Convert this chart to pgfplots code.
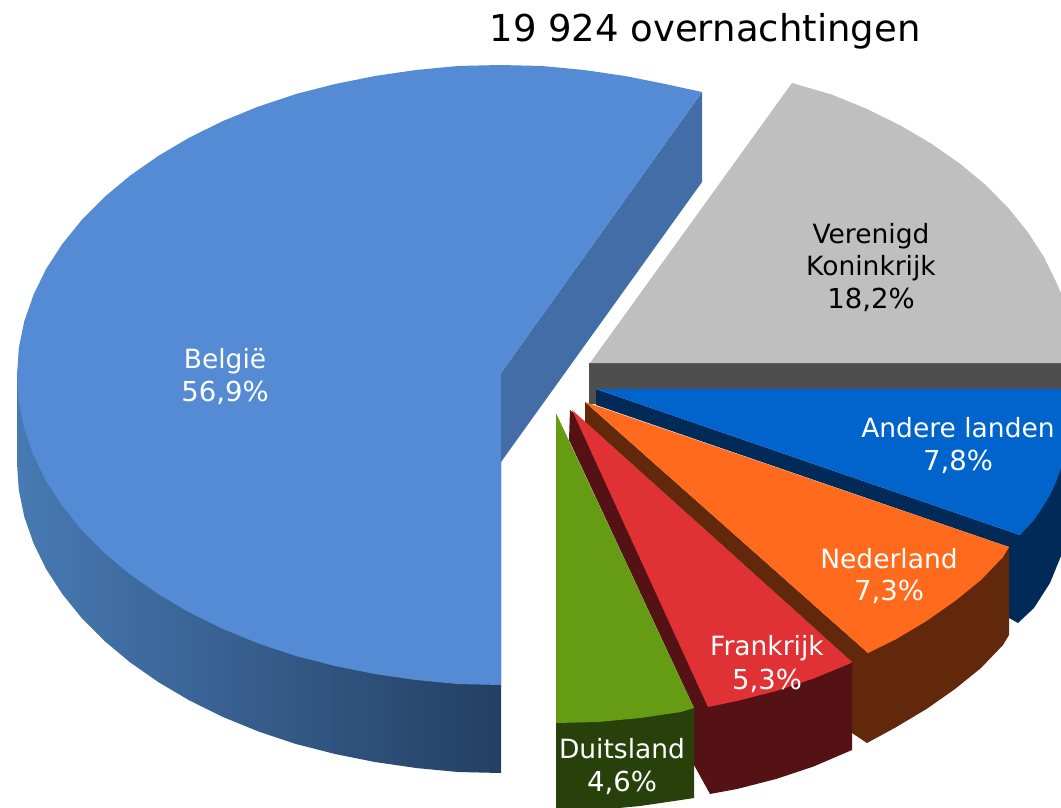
\documentclass[border=0pt]{standalone}
\usepackage{pgfplots}
\pgfplotsset{compat=1.18}
\usepackage{fontspec}
\setmainfont{DejaVu Sans}
\definecolor{belTop}{HTML}{558BD4}
\definecolor{belCut}{HTML}{426DA6}
\definecolor{belL}{HTML}{477AB3}
\definecolor{belM}{HTML}{3C6598}
\definecolor{belR}{HTML}{243F63}
\definecolor{ukTop}{HTML}{BFBFBF}
\definecolor{ukCut}{HTML}{4E4E4E}
\definecolor{otTop}{HTML}{0064CC}
\definecolor{otCut}{HTML}{002A58}
\definecolor{nlTop}{HTML}{FF6A1C}
\definecolor{nlCut}{HTML}{62280C}
\definecolor{frTop}{HTML}{E03134}
\definecolor{frCut}{HTML}{551214}
\definecolor{deTop}{HTML}{669C14}
\definecolor{deCut}{HTML}{28400A}
\newcommand{\lab}[4][white]{\node[anchor=base,inner sep=0pt,text=#1,font=\fontsize{#2}{#2}\selectfont] at (axis cs:#3) {#4};}
\begin{document}
\begin{tikzpicture}
\begin{axis}[
  scale only axis, width=1061pt, height=808pt,
  xmin=0, xmax=1061, ymin=0, ymax=808, y dir=reverse,
  hide axis, clip=true]
\path[use as bounding box] (rel axis cs:0,0) rectangle (rel axis cs:1,1);
% België: cut face
\addplot[fill=belCut,draw=none] coordinates {(702,92)(702,182)(501,462)(501,373)};
% België: outer side
\addplot[draw=none,left color=belL,middle color=belM,right color=belR] coordinates {
(17,375)(17,463)(18.8,490)(24.3,516.8)(33.5,543.2)(46.1,569)(62.3,594)(81.7,618)(104.3,640.8)(130,662.3)(158.5,682.2)(189.5,700.5)(223,717)(258.5,731.5)(296,744)(335,754)(375,762)(416,768)(458,772)(501,773)(501,375)};
% België: top
\addplot[fill=belTop,draw=none] coordinates {
(501,373)(702,92)(665,84)(625,76)(584,70)(542,66)(500,65)(458,66)(416,70)(375,76)(335,84)(296,94)(258.5,106.5)(223,121)(189.5,137.5)(158.5,155.8)(130,175.7)(104.3,197.2)(81.7,220)(62.3,244)(46.1,269)(33.5,294.8)(24.3,321.2)(18.8,348)(17,375)(18.8,402)(24.3,428.8)(33.5,455.2)(46.1,481)(62.3,506)(81.7,530)(104.3,552.8)(130,574.3)(158.5,594.2)(189.5,612.5)(223,629)(258.5,643.5)(296,656)(335,666)(375,674)(416,680)(458,684)(501,685)};
% Verenigd Koninkrijk
\addplot[fill=ukCut,draw=none] coordinates {(589,363)(1061,363)(1061,389)(596,389)(596,404)(589,404)};
\addplot[fill=ukTop,draw=none] coordinates {(590,363)(792,83)(831.5,94.5)(867,109)(900.5,125.5)(931.5,143.8)(960,163.7)(985.7,185)(1008.3,208)(1027.7,232)(1043.9,257)(1056.5,282.8)(1061,293)(1061,363)};
% Andere landen
\addplot[fill=otCut,draw=none] coordinates {(596,389)(1020,535)(1061,468)(1061,556)(1050,583)(1034,608)(1018,623)(1009,618)(1009,547)(596,405)};
\addplot[fill=otTop,draw=none] coordinates {(596,389)(1061,389)(1061,468)(1056,482)(1050,495)(1042,508)(1034,520)(1020,535)};
% Nederland
\addplot[fill=nlCut,draw=none] coordinates {(585,402)(868,653)(1009,547)(1009,635)(1003,645)(981,668)(955,689)(926.5,709)(895.5,727.5)(867,743)(852,733)(852,662)(585,422)};
\addplot[fill=nlTop,draw=none] coordinates {(585,402)(1009,547)(1003,557)(981,580)(955,601)(926.5,621)(895.5,639.5)(868,653)};
% Frankrijk
\addplot[fill=frCut,draw=none] coordinates {(570,410)(852,662)(852,750)(813.5,766.5)(776,779)(737,789)(710,794)(694,765)(694,708)(569,440)};
\addplot[fill=frTop,draw=none] coordinates {(572,410)(852,662)(849,664)(813.5,678.5)(776,691)(737,701)(708,707)};
% Duitsland
\addplot[fill=deCut,draw=none] coordinates {(556,722)(556,811)(598,810)(640,806)(681,800)(694,798)(694,708)};
\addplot[fill=deTop,draw=none] coordinates {(556,413)(694,708)(681,712)(640,718)(598,722)(556,723)};
% Text
\lab[black]{37}{705,42}{19 924 overnachtingen}
\lab[black]{26.5}{871,243}{Verenigd}
\lab[black]{26.5}{871,275}{Koninkrijk}
\lab[black]{27.5}{871,308}{18,2\%}
\lab{26.5}{958,437}{Andere landen}
\lab{27.5}{958,470}{7,8\%}
\lab{26.5}{889,568}{Nederland}
\lab{27.5}{889,600}{7,3\%}
\lab{26.5}{767,655}{Frankrijk}
\lab{27.5}{767,689}{5,3\%}
\lab{26.5}{622,758}{Duitsland}
\lab{27.5}{622,791}{4,6\%}
\lab{26.5}{225,368}{België}
\lab{27.5}{225,401}{56,9\%}
\end{axis}
\end{tikzpicture}
\end{document}
